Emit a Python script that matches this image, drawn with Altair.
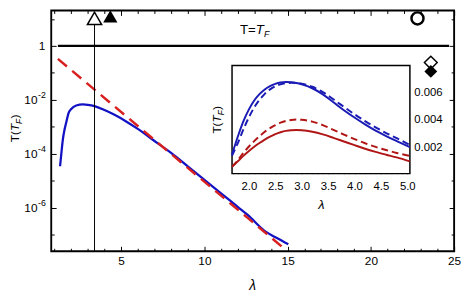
import altair as alt
import pandas as pd

# ---------------- data ----------------
# main panel (log y)
blue_lam = [1.33, 1.42, 1.5, 1.6, 1.7, 1.85, 2.0, 2.3, 2.7, 3.0, 3.4, 4.0, 4.6, 5.3, 6.0,
            7.2, 8.0, 9.0, 10.0, 11.0, 12.0, 12.6, 13.7, 14.3, 15.04]
blue_T = [3.5e-5, 1.25e-4, 3.5e-4, 8.0e-4, 1.45e-3, 3.4e-3, 4.6e-3, 6.2e-3, 6.8e-3, 6.6e-3,
          5.9e-3, 4.2e-3, 2.8e-3, 1.6e-3, 8.5e-4, 2.45e-4, 1.1e-4, 3.5e-5, 1.1e-5, 3.5e-6,
          1.1e-6, 5.5e-7, 1.3e-7, 8.0e-8, 4.5e-8]
red_lam = [1.2, 3.4, 8.0, 12.6, 14.9]
red_T = [0.33, 0.024, 1.0e-4, 4.3e-7, 2.75e-8]
tf_lam = [1.2, 24.7]
tf_T = [1.0, 1.0]
vline_lam = [3.4]
open_tri = {"lam": [3.4], "T": [10.4]}
full_tri = {"lam": [4.35], "T": [12.3]}
open_circ = {"lam": [22.8], "T": [10.4]}
open_dia = {"lam": [23.6], "T": [0.241]}
full_dia = {"lam": [23.6], "T": [0.1135]}

# inset panel (linear y)
in_lam = [1.68, 1.8, 1.9, 2.0, 2.1, 2.2, 2.3, 2.4, 2.5, 2.6, 2.7, 2.8, 2.9, 3.0,
          3.2, 3.4, 3.6, 3.8, 4.0, 4.2, 4.4, 4.6, 4.8, 5.05]
in_blue_solid = [0.00148, 0.00290, 0.00395, 0.00478, 0.00543, 0.00590, 0.00624, 0.00648,
                 0.00665, 0.00675, 0.00679, 0.00678, 0.00672, 0.00662, 0.00633, 0.00588,
                 0.00530, 0.00472, 0.00418, 0.00368, 0.00322, 0.00282, 0.00245, 0.00200]
in_blue_dash = [0.00138, 0.00240, 0.00335, 0.00420, 0.00492, 0.00548, 0.00592, 0.00625,
                0.00648, 0.00662, 0.00670, 0.00673, 0.00672, 0.00667, 0.00644, 0.00605,
                0.00552, 0.00496, 0.00442, 0.00392, 0.00346, 0.00304, 0.00266, 0.00216]
in_red_dash = [0.00055, 0.00110, 0.00160, 0.00205, 0.00245, 0.00281, 0.00313, 0.00340,
               0.00362, 0.00380, 0.00393, 0.00400, 0.00403, 0.00401, 0.00388, 0.00362,
               0.00328, 0.00293, 0.00260, 0.00229, 0.00202, 0.00179, 0.00158, 0.00136]
in_red_solid = [0.00058, 0.00100, 0.00138, 0.00172, 0.00203, 0.00231, 0.00256, 0.00278,
                0.00296, 0.00310, 0.00320, 0.00325, 0.00326, 0.00324, 0.00313, 0.00294,
                0.00269, 0.00242, 0.00215, 0.00189, 0.00166, 0.00145, 0.00125, 0.00096]

# tick values and labels
x_major = [5, 10, 15, 20, 25]
x_minor = [v for v in range(1, 25) if v % 5 != 0]
y_major = [1, 1e-2, 1e-4, 1e-6]
y_minor = [10, 1e-1, 1e-3, 1e-5, 1e-7]
y_pow_vals = [1e-2, 1e-4, 1e-6]
y_pow_exps = ["-2", "-4", "-6"]
ix_major = [2.0, 2.5, 3.0, 3.5, 4.0, 4.5, 5.0]
ix_minor = [round(1.7 + 0.1 * i, 1) for i in range(34)]
iy_labels = [0.002, 0.004, 0.006]

# ---------------- layout ----------------
W, H = 410, 245
FONT = "Liberation Sans"
X_DOM = [0.8, 25]
Y_DOM = [2.5e-8, 20.4]
IX_DOM = [1.68, 5.05]
IY_DOM = [0.00006, 0.008]
IX_RANGE = [184, 365]
IY_RANGE = [166, 56]

xs = alt.Scale(domain=X_DOM, nice=False, zero=False)
ys = alt.Scale(type="log", domain=Y_DOM, nice=False)
ixs = alt.Scale(domain=IX_DOM, range=IX_RANGE, nice=False, zero=False)
iys = alt.Scale(domain=IY_DOM, range=IY_RANGE, nice=False, zero=False)


def tick_axis(orient, offset, values, size):
    return alt.Axis(orient=orient, offset=offset, values=values, tickSize=size,
                    labels=False, domain=False, grid=False, title=None,
                    tickColor="black", tickWidth=1)


x_axes = [
    alt.Axis(orient="bottom", values=x_major, ticks=False, domain=False, grid=False,
             title=None, labelFontSize=12, labelPadding=5, labelFlush=False,
             labelColor="black", labelFont=FONT),
    tick_axis("top", -H, x_major, 5),
    tick_axis("top", -H, x_minor, 3),
    tick_axis("bottom", -H, x_major, 5),
    tick_axis("bottom", -H, x_minor, 3),
]
y_axes = [
    tick_axis("right", -W, y_major, 5),
    tick_axis("right", -W, y_minor, 3),
    tick_axis("left", -W, y_major, 5),
    tick_axis("left", -W, y_minor, 3),
]


def enc(i):
    xa = x_axes[i] if i < len(x_axes) else None
    ya = y_axes[i] if i < len(y_axes) else None
    return dict(x=alt.X("lam:Q", scale=xs, axis=xa), y=alt.Y("T:Q", scale=ys, axis=ya))


blue_df = pd.DataFrame({"lam": blue_lam, "T": blue_T})
red_df = pd.DataFrame({"lam": red_lam, "T": red_T})
tf_df = pd.DataFrame({"lam": tf_lam, "T": tf_T})
vl_df = pd.DataFrame({"lam": vline_lam, "T": [Y_DOM[0]], "T2": open_tri["T"]})

l_blue = alt.Chart(blue_df).mark_line(color="#1212c4", strokeWidth=2.3,
                                      interpolate="monotone").encode(**enc(0))
l_red = alt.Chart(red_df).mark_line(color="#d82020", strokeWidth=2.5,
                                    strokeDash=[12, 7]).encode(**enc(1))
l_tf = alt.Chart(tf_df).mark_line(color="black", strokeWidth=2.4).encode(**enc(2))
l_vl = alt.Chart(vl_df).mark_rule(color="black", strokeWidth=1).encode(
    y2="T2:Q", **enc(3))
m_otri = alt.Chart(pd.DataFrame(open_tri)).mark_point(
    shape="triangle-up", size=210, fill="white", stroke="black", strokeWidth=1.5,
    opacity=1, fillOpacity=1).encode(**enc(4))
m_ftri = alt.Chart(pd.DataFrame(full_tri)).mark_point(
    shape="triangle-up", size=210, filled=True, color="black", opacity=1).encode(**enc(5))
m_circ = alt.Chart(pd.DataFrame(open_circ)).mark_point(
    shape="circle", size=150, fill="white", stroke="black", strokeWidth=2.5,
    opacity=1, fillOpacity=1).encode(**enc(5))
m_odia = alt.Chart(pd.DataFrame(open_dia)).mark_point(
    shape="diamond", size=170, fill="white", stroke="black", strokeWidth=1.5,
    opacity=1, fillOpacity=1).encode(**enc(5))
m_fdia = alt.Chart(pd.DataFrame(full_dia)).mark_point(
    shape="diamond", size=170, filled=True, color="black", opacity=1).encode(**enc(5))

# y tick labels "1", "10^-n" (positioned by the y scale)
ylab_one = alt.Chart(pd.DataFrame({"T": [1.0]})).mark_text(
    font=FONT, fontSize=12, align="right", baseline="middle", color="black").encode(
    y=alt.Y("T:Q", scale=ys, axis=None), x=alt.value(-6), text=alt.value("1"))
pow_df = pd.DataFrame({"T": y_pow_vals, "e": y_pow_exps})
ylab_base = alt.Chart(pow_df).mark_text(
    font=FONT, fontSize=12, align="right", baseline="middle", color="black").encode(
    y=alt.Y("T:Q", scale=ys, axis=None), x=alt.value(-14), text=alt.value("10"))
ylab_exp = alt.Chart(pow_df).mark_text(
    font=FONT, fontSize=9, align="left", baseline="middle", dy=-5, color="black").encode(
    y=alt.Y("T:Q", scale=ys, axis=None), x=alt.value(-13.5), text="e:N")


def txt(s, x, y, size=12, style="normal", angle=0, align="left", baseline="alphabetic"):
    return alt.Chart(pd.DataFrame({"s": [s]})).mark_text(
        font=FONT, fontSize=size, fontStyle=style, angle=angle, align=align,
        baseline=baseline, color="black").encode(
        text="s:N", x=alt.value(x), y=alt.value(y))


# main y title  T(T_F)  rotated
main_title = [
    txt("T(", -33, 134, angle=270),
    txt("T", -33, 122.7, style="italic", angle=270),
    txt("F", -30, 115.4, size=8.5, style="italic", angle=270),
    txt(")", -33, 110.0, angle=270),
]
# label T=T_F
tf_label = [
    txt("T=", 192, 24, size=13.5),
    txt("T", 208, 24, size=13.5, style="italic"),
    txt("F", 216.5, 27, size=9, style="italic"),
]
lam_main = txt("λ", 205, 280, size=14, style="italic", align="center", baseline="middle")

main = alt.layer(l_blue, l_red, l_tf, l_vl, m_otri, m_ftri, m_circ, m_odia, m_fdia,
                 ylab_one, ylab_base, ylab_exp,
                 *main_title, *tf_label, lam_main).resolve_axis(x="independent",
                                                                 y="independent")

# ---------------- inset ----------------
ix_axes = [
    alt.Axis(orient="bottom", offset=-(H - IY_RANGE[0]), values=ix_major, format=".1f",
             ticks=False, domain=False, grid=False, title=None, labelFontSize=11.5,
             labelPadding=7, labelFlush=False, labelColor="black", labelFont=FONT),
    tick_axis("top", -IY_RANGE[0], ix_major, 4),
    tick_axis("top", -IY_RANGE[0], ix_minor, 2),
]
iy_axes = [
    alt.Axis(orient="right", offset=-(W - IX_RANGE[1]), values=iy_labels, format=".3f",
             ticks=False, domain=False, grid=False, title=None, labelFontSize=11.5,
             labelPadding=4, labelColor="black", labelFont=FONT),
]


def ienc(i):
    xa = ix_axes[i] if i < len(ix_axes) else None
    ya = iy_axes[i] if i < len(iy_axes) else None
    return dict(x=alt.X("lam:Q", scale=ixs, axis=xa), y=alt.Y("T:Q", scale=iys, axis=ya))


frame_df = pd.DataFrame({"lam": [IX_DOM[0]], "lam2": [IX_DOM[1]],
                         "T": [IY_DOM[0]], "T2": [IY_DOM[1]]})
i_frame = alt.Chart(frame_df).mark_rect(fill="white", stroke="black",
                                         strokeWidth=1.5).encode(
    x2="lam2:Q", y2="T2:Q", **ienc(0))


def iline(vals, color, dash, i):
    df = pd.DataFrame({"lam": in_lam, "T": vals})
    kw = dict(color=color, strokeWidth=2, interpolate="monotone")
    if dash:
        kw["strokeDash"] = dash
    return alt.Chart(df).mark_line(**kw).encode(**ienc(i))


i_bs = iline(in_blue_solid, "#1a1ab4", None, 1)
i_bd = iline(in_blue_dash, "#1a1ab4", [7, 4], 2)
i_rd = iline(in_red_dash, "#b01616", [7, 4], 3)
i_rs = iline(in_red_solid, "#b01616", None, 4)

inset_title = [
    txt("T(", 173, 125.3, angle=270),
    txt("T", 173, 114.0, style="italic", angle=270),
    txt("F", 176, 106.7, size=8.5, style="italic", angle=270),
    txt(")", 173, 101.3, angle=270),
]
lam_inset = txt("λ", 275, 198, size=13, style="italic", align="center", baseline="middle")

inset = alt.layer(i_frame, i_bs, i_bd, i_rd, i_rs, *inset_title, lam_inset).resolve_axis(
    x="independent", y="independent")

chart = alt.layer(main, inset).resolve_scale(x="independent", y="independent").properties(
    width=W, height=H,
    autosize=alt.AutoSizeParams(type="none"),
    padding={"left": 44, "top": 0, "right": 7, "bottom": 43},
).configure_view(stroke="black", strokeWidth=1.9).configure_axis(
    labelFont=FONT, labelColor="black")

chart.save("out.html", embed_options={"renderer": "svg", "actions": False})
